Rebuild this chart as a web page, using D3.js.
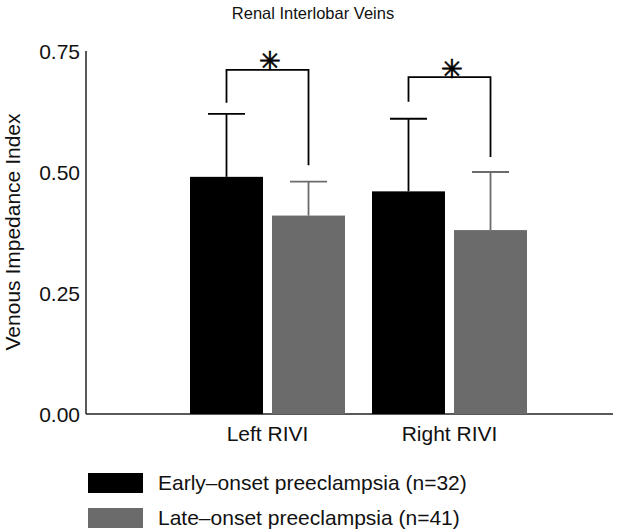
<!DOCTYPE html>
<html><head><meta charset="utf-8">
<script src="https://cdn.jsdelivr.net/npm/d3@7"></script>
<style>body{margin:0;background:#fff;} text{font-family:"Liberation Sans",Arial,sans-serif;}</style>
</head><body>
<svg id="c" width="630" height="532"></svg>
<script>
const categories = ["Left RIVI", "Right RIVI"];
const seriesNames = ["Early\u2013onset preeclampsia (n=32)", "Late\u2013onset preeclampsia (n=41)"];
const earlyMeans = [0.49, 0.46];
const earlyErr = [0.13, 0.15];
const lateMeans = [0.41, 0.38];
const lateErr = [0.07, 0.12];
const yTicks = [0.00, 0.25, 0.50, 0.75];
// significance brackets: [top, left leg bottom, right leg bottom]
const brackets = [[0.711, 0.643, 0.514], [0.696, 0.645, 0.531]];
const colors = ["#000000", "#6b6b6b"];

const svg = d3.select("#c");
const y = d3.scaleLinear().domain([0, 0.75]).range([414, 51]);
const x0 = d3.scaleBand().domain(categories).range([190, 554]).padding(0);
const x1 = d3.scaleBand().domain([0, 1]).range([0, 155]).paddingInner(0.11).paddingOuter(0);

// Axes
svg.append("line").attr("x1", 86).attr("x2", 86).attr("y1", y(0.75)).attr("y2", y(0)).attr("stroke", "#222").attr("stroke-width", 1.5);
svg.append("line").attr("x1", 86).attr("x2", 613).attr("y1", y(0)).attr("y2", y(0)).attr("stroke", "#222").attr("stroke-width", 1.5);

svg.selectAll(".yt").data(yTicks).enter().append("text")
  .attr("x", 80).attr("y", d => y(d) + 7.5).attr("text-anchor", "end")
  .attr("font-size", 21).attr("fill", "#111").text(d => d.toFixed(2));

svg.append("text").attr("transform", "translate(20,232) rotate(-90)").attr("text-anchor", "middle")
  .attr("font-size", 21).attr("fill", "#111").text("Venous Impedance Index");

svg.append("text").attr("x", 313).attr("y", 19).attr("text-anchor", "middle")
  .attr("font-size", 16.5).attr("fill", "#111").text("Renal Interlobar Veins");

const series = [{m: earlyMeans, e: earlyErr}, {m: lateMeans, e: lateErr}];
categories.forEach((c, i) => {
  const g = svg.append("g").attr("transform", `translate(${x0(c)},0)`);
  series.forEach((s, j) => {
    const bx = x1(j), bw = x1.bandwidth(), cx = bx + bw / 2;
    g.append("rect").attr("x", bx).attr("width", bw).attr("y", y(s.m[i])).attr("height", y(0) - y(s.m[i])).attr("fill", colors[j]);
    g.append("line").attr("x1", cx).attr("x2", cx).attr("y1", y(s.m[i])).attr("y2", y(s.m[i] + s.e[i])).attr("stroke", colors[j]).attr("stroke-width", 1.8);
    g.append("line").attr("x1", cx - 18.5).attr("x2", cx + 18.5).attr("y1", y(s.m[i] + s.e[i])).attr("y2", y(s.m[i] + s.e[i])).attr("stroke", colors[j]).attr("stroke-width", 1.8);
  });
  const b = brackets[i];
  const lx = x1(0) + x1.bandwidth() / 2, rx = x1(1) + x1.bandwidth() / 2;
  g.append("path").attr("d", `M${lx},${y(b[1])}V${y(b[0])}H${rx}V${y(b[2])}`).attr("fill", "none").attr("stroke", "#000").attr("stroke-width", 1.8);
  g.append("text").attr("x", (lx + rx) / 2 + 2).attr("y", y(b[0]) + 0.5).attr("text-anchor", "middle")
    .attr("font-family", "DejaVu Sans").attr("font-size", 26).attr("fill", "#000")
    .attr("stroke", "#000").attr("stroke-width", 0.7).text("\u2733");
  svg.append("text").attr("x", x0(c) + 77.5).attr("y", 441).attr("text-anchor", "middle")
    .attr("font-size", 21).attr("fill", "#111").text(c);
});

// Legend
seriesNames.forEach((n, j) => {
  const ly = 473 + j * 35;
  svg.append("rect").attr("x", 88).attr("y", ly).attr("width", 55).attr("height", 20).attr("fill", colors[j]);
  svg.append("text").attr("x", 158).attr("y", ly + 17).attr("font-size", 21).attr("fill", "#111").text(n);
});
</script>
</body></html>
